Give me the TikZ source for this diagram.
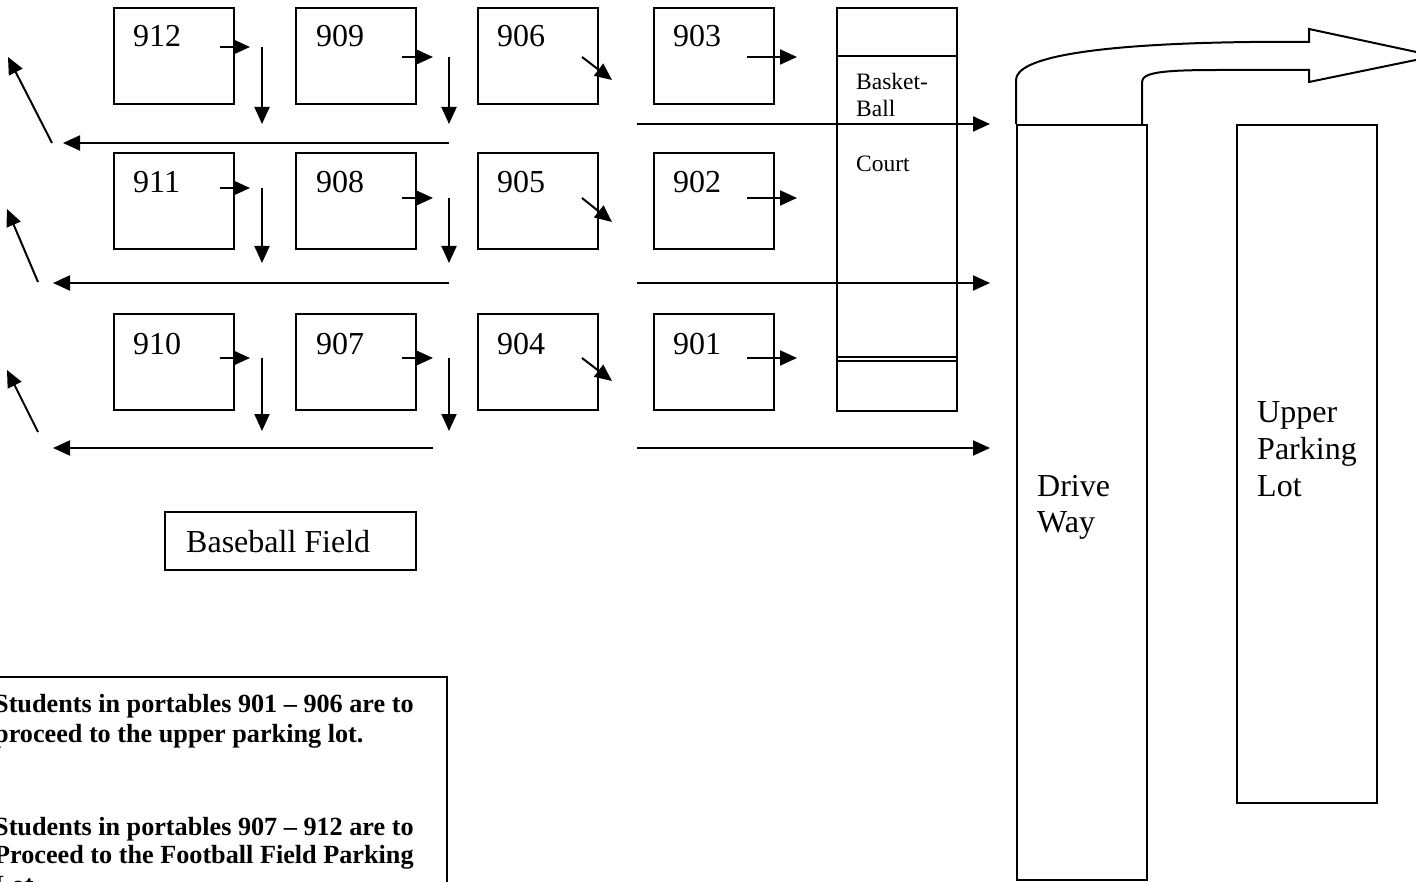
\documentclass[tikz,border=0pt]{standalone}
\usepackage{fontspec}
\setmainfont{Liberation Serif}
\usetikzlibrary{arrows.meta}
\tikzset{
  ln/.style={line width=2pt},
  arr/.style={ln, -{Triangle[length=17pt,width=15pt]}},
  portable/.style={draw, line width=2pt, minimum width=120pt, minimum height=96pt, anchor=north west, inner sep=0pt},
  area/.style={draw, line width=2pt, anchor=north west, inner sep=0pt},
  num/.style={anchor=base west, inner sep=0pt, font=\fontsize{32}{37}\selectfont},
  small/.style={anchor=base west, inner sep=0pt, font=\fontsize{23.5}{27}\selectfont},
  note/.style={anchor=base west, inner sep=0pt, font=\bfseries\fontsize{26.2}{30}\selectfont},
}
\begin{document}
\begin{tikzpicture}[x=1pt,y=-1pt]
\useasboundingbox (0,0) rectangle (1416,882);
\fill[white] (0,0) rectangle (1416,882);
\clip (0,0) rectangle (1416,882);

% portables
\foreach \n/\x/\y in {912/113/7, 909/295/7, 906/477/7, 903/653/7,
                      911/113/152, 908/295/152, 905/477/152, 902/653/152,
                      910/113/313, 907/295/313, 904/477/313, 901/653/313} {
  \node[portable] (p\n) at (\x,\y) {};
}
\foreach \n/\x/\y in {912/133/47, 909/316/47, 906/497/47, 903/673/47,
                      911/133/193, 908/316/193, 905/497/193, 902/673/193,
                      910/133/355, 907/316/355, 904/497/355, 901/673/355} {
  \node[num] (t\n) at (\x,\y) {\n};
}

% basketball court
\node[area, minimum width=120pt, minimum height=403pt] (court) at (836,7) {};
\draw[ln] (836,56) -- (956,56);
\draw[ln] (836,357) -- (956,357);
\draw[line width=1.4pt] (836,361) -- (956,361);
\node[small] (bb1) at (856,90) {Basket-};
\node[small] (bb2) at (856,117) {Ball};
\node[small] (bb3) at (856,172) {Court};

% drive way and upper parking lot
\node[area, minimum width=130pt, minimum height=755pt] (drive) at (1016,124) {};
\node[num] (dw1) at (1037,496) {Drive};
\node[num] (dw2) at (1037,532) {Way};
\node[area, minimum width=140pt, minimum height=678pt] (upper) at (1236,124) {};
\node[num] (up1) at (1257,422) {Upper};
\node[num] (up2) at (1257,459) {Parking};
\node[num] (up3) at (1257,496) {Lot};

% big curved arrow
\draw[ln, line join=miter] (1016,124) -- (1016,80)
  .. controls (1016,58) and (1090,44) .. (1250,42) -- (1309,42)
  -- (1309,29) -- (1435,56) -- (1309,82) -- (1309,70) -- (1220,70)
  .. controls (1165,70) and (1142,72) .. (1142,82) -- (1142,124);

% baseball field
\node[area, minimum width=251pt, minimum height=58pt] (field) at (164,511) {};
\node[num] (tfield) at (186,552) {Baseball Field};

% note box
\draw[ln] (-10,677) -- (447,677) -- (447,900);
\node[note] (n1) at (-6,712) {Students in portables 901 -- 906 are to};
\node[note] (n2) at (-6,742) {proceed to the upper parking lot.};
\node[note] (n3) at (-6,835) {Students in portables 907 -- 912 are to};
\node[note] (n4) at (-6,863) {Proceed to the Football Field Parking};
\node[note] (n5) at (-6,893) {Lot.};

% small right arrows out of the portables
\foreach \y in {47,188,358} { \draw[arr] (220,\y) -- (250,\y); }
\foreach \y in {57,198,358} { \draw[arr] (402,\y) -- (433,\y); }
\foreach \y in {57,198,358} { \draw[arr] (747,\y) -- (797,\y); }
% diagonal arrows
\draw[arr] (582,57) -- (612,80);
\draw[arr] (582,198) -- (612,222);
\draw[arr] (582,358) -- (612,381);
% down arrows
\draw[arr] (262,47) -- (262,124);
\draw[arr] (262,188) -- (262,263);
\draw[arr] (262,358) -- (262,431);
\draw[arr] (449,57) -- (449,124);
\draw[arr] (449,198) -- (449,263);
\draw[arr] (449,358) -- (449,431);
% long left arrows
\draw[arr] (449,143) -- (63,143);
\draw[arr] (449,283) -- (53,283);
\draw[arr] (433,448) -- (53,448);
% long right arrows
\draw[arr] (637,124) -- (990,124);
\draw[arr] (637,283) -- (990,283);
\draw[arr] (637,448) -- (990,448);
% far-left diagonal arrows
\draw[arr] (52,143) -- (8,57);
\draw[arr] (38,282) -- (7,209);
\draw[arr] (38,432) -- (7,370);
\end{tikzpicture}
\end{document}
